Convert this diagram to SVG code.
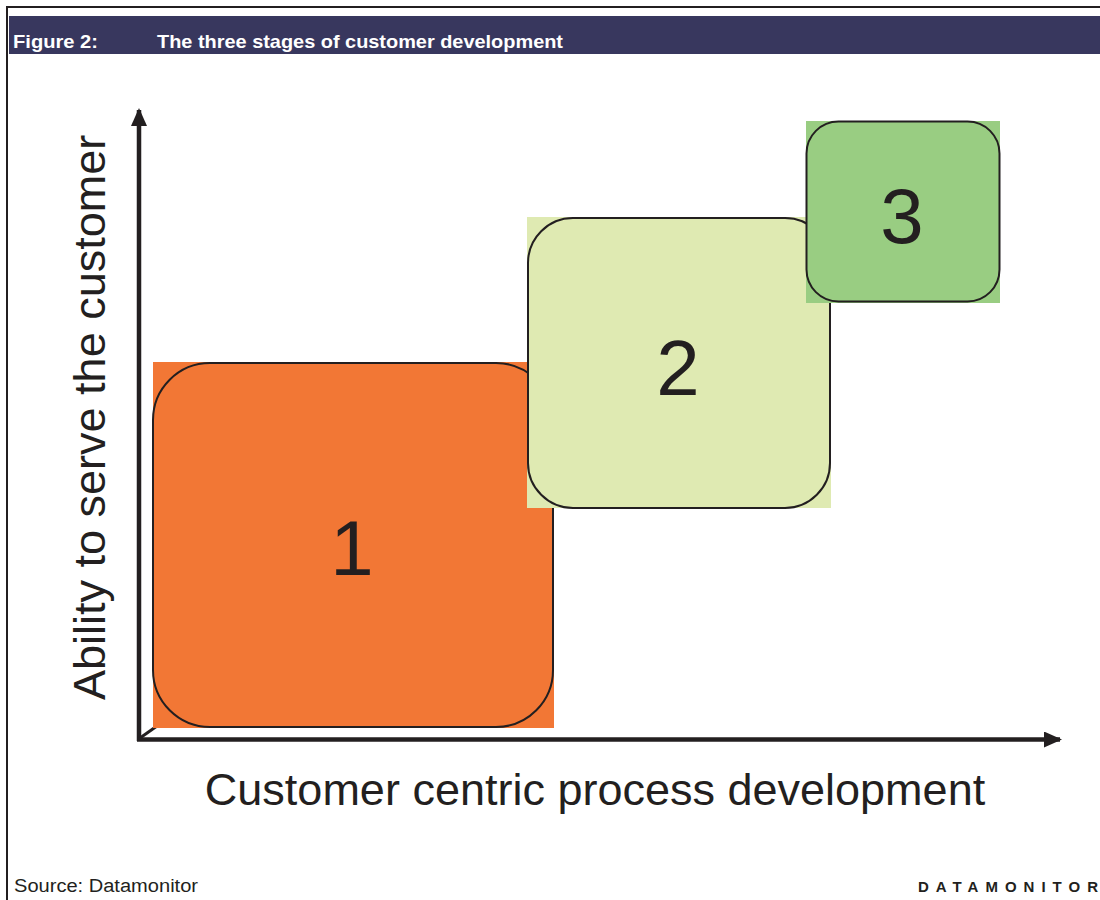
<svg xmlns="http://www.w3.org/2000/svg" width="1100" height="900" viewBox="0 0 1100 900">
  <defs>
    <style>
      .frame { fill: none; stroke: #231f20; stroke-width: 2; }
      .hdr { fill: #38375e; }
      .hdr-text { font-family: "Liberation Sans", Arial, sans-serif; font-weight: bold; font-size: 19px; fill: #ffffff; }
      .axis { stroke: #231f20; stroke-width: 4.5; fill: none; }
      .outline { fill: none; stroke: #231f20; stroke-width: 2; }
      .num { font-family: "Liberation Sans", Arial, sans-serif; font-size: 78px; fill: #231f20; text-anchor: middle; }
      .axis-label { font-family: "Liberation Sans", Arial, sans-serif; font-size: 45px; fill: #231f20; }
      .foot { font-family: "Liberation Sans", Arial, sans-serif; font-size: 18px; fill: #231f20; }
      .brand { font-family: "Liberation Sans", Arial, sans-serif; font-size: 15px; font-weight: bold; fill: #231f20; }
    </style>
    <marker id="arrow" viewBox="0 0 18 16" refX="16" refY="8" markerWidth="18" markerHeight="16" markerUnits="userSpaceOnUse" orient="auto">
      <path d="M0,0 L18,8 L0,16 Z" fill="#231f20"/>
    </marker>
  </defs>

  <rect x="0" y="0" width="1100" height="900" fill="#ffffff"/>

  <!-- page frame and title bar -->
  <path class="frame" d="M7,900 V7 H1100"/>
  <rect class="hdr" x="9" y="16" width="1091" height="38"/>
  <text class="hdr-text" x="13" y="48" textLength="85" lengthAdjust="spacingAndGlyphs">Figure 2:</text>
  <text class="hdr-text" x="157" y="48" textLength="406" lengthAdjust="spacingAndGlyphs">The three stages of customer development</text>

  <!-- axes -->
  <g id="axes">
    <line class="axis" x1="139" y1="741" x2="139" y2="110" marker-end="url(#arrow)"/>
    <line class="axis" x1="137" y1="739.5" x2="1060" y2="739.5" marker-end="url(#arrow)"/>
    <line x1="140" y1="738" x2="157" y2="726" stroke="#231f20" stroke-width="3"/>
  </g>

  <!-- stage 1 -->
  <g id="stage1">
    <rect x="153" y="362" width="401" height="366" fill="#f27735"/>
    <rect class="outline" x="153" y="363" width="400" height="364" rx="57" ry="57"/>
    <text class="num" x="352" y="575">1</text>
  </g>

  <!-- stage 2 -->
  <g id="stage2">
    <rect x="527" y="217" width="304" height="291" fill="#dfeab2"/>
    <rect class="outline" x="528" y="218" width="302" height="290" rx="45" ry="45"/>
    <text class="num" x="678" y="395">2</text>
  </g>

  <!-- stage 3 -->
  <g id="stage3">
    <rect x="806" y="121" width="194" height="182" fill="#99cd82"/>
    <rect class="outline" x="806.5" y="121.5" width="193" height="180" rx="32" ry="32"/>
    <text class="num" x="902" y="243">3</text>
  </g>

  <!-- axis titles -->
  <text class="axis-label" x="595" y="805" text-anchor="middle">Customer centric process development</text>
  <text class="axis-label" transform="translate(105,700) rotate(-90)">Ability to serve the customer</text>

  <!-- footer -->
  <text class="foot" x="14" y="892" textLength="184" lengthAdjust="spacingAndGlyphs">Source: Datamonitor</text>
  <text class="brand" x="918" y="892" textLength="180" lengthAdjust="spacing">DATAMONITOR</text>
</svg>
